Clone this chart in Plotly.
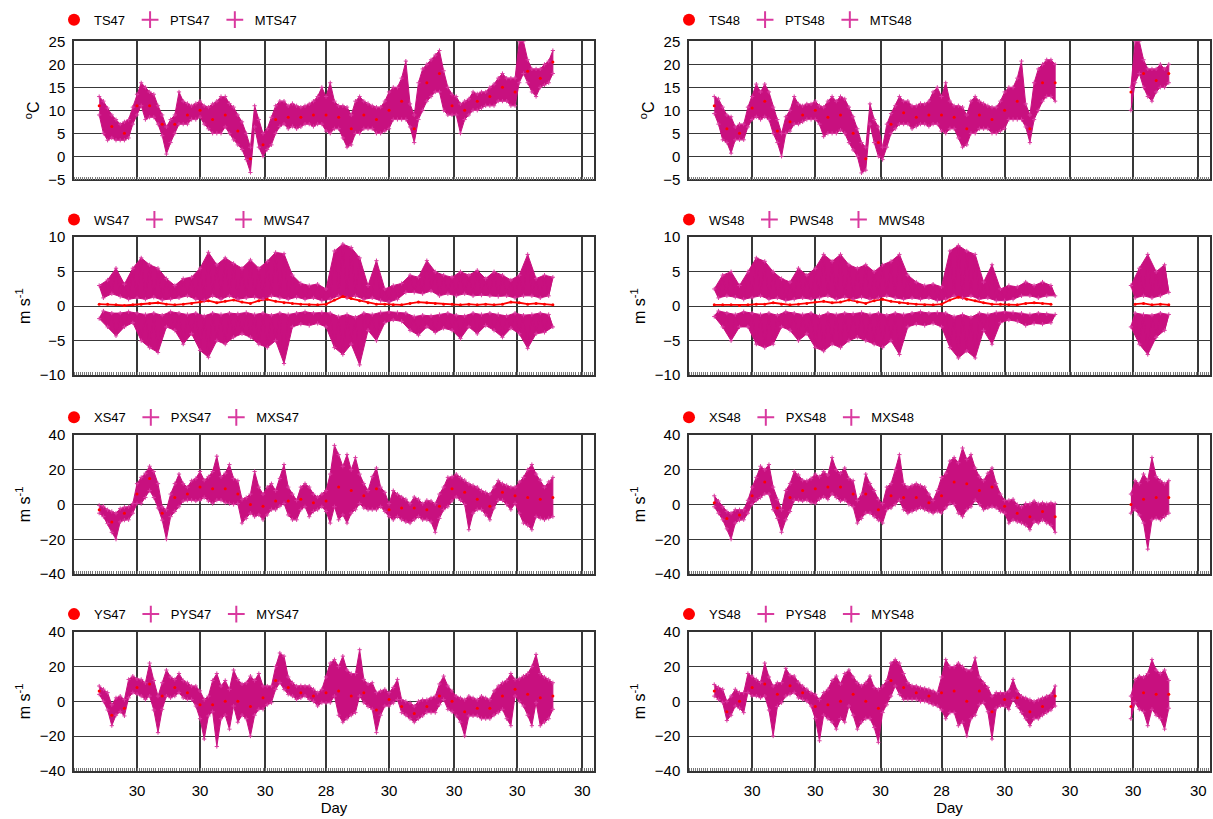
import pandas as pd
import plotly.graph_objects as go

# ---------------------------------------------------------------- data
N = None
START = "2012-11-12"          # first sample of every record
TICK_DATES = ["2012-11-30", "2012-12-30", "2013-01-30", "2013-02-28",
              "2013-03-30", "2013-04-30", "2013-05-30", "2013-06-30"]
TICK_LABELS = ["30", "30", "30", "28", "30", "30", "30", "30"]

# ---- temperature, station 47 (P/M every 2 days, T every 6 days)
PTS47 = [13, 12, 10.5, 9, 8, 7, 7.5, 8, 10.7, 13.5,
         16, 15, 14, 13.5, 11, 9, 6.4, 8, 9, 14,
         12, 11.5, 11, 11.5, 12, 11, 10.7, 11.4, 12, 13,
         13, 11.5, 10.7, 9, 7.5, 5, 2, 11, 8, 5,
         6, 8.5, 11, 12, 12, 11, 11.5, 11, 10.7, 11,
         11.4, 12, 13, 15, 13, 16, 12, 11, 11, 10.7,
         9, 12, 13, 12, 11.5, 11, 10.7, 10.7, 12, 14,
         15, 15, 17, 20.7, 11.4, 9, 16, 19, 20, 21,
         22, 23, 18.6, 15, 13.5, 13, 11.4, 12, 12.5, 14,
         13.6, 14, 14, 15, 15.7, 17, 18, 17, 17, 17,
         25, 25, 21, 19, 19, 19, 20, 20.7, 23]
MTS47 = [9, 5, 3.5, 4, 3.5, 3.5, 3.5, 4, 7, 9,
         11, 8, 8.5, 8.5, 7, 4.5, 0.5, 3, 5, 7,
         7, 7, 8, 8, 8.5, 7, 6, 5, 5, 5,
         6.4, 5, 3.6, 2.5, 1.5, -0.7, -3.5, 6.4, 2, 0,
         1.5, 2.5, 5, 6.5, 7, 6, 6.5, 6, 6.4, 7,
         7, 6.5, 7, 7, 5.5, 5, 6, 6, 4, 2,
         2.5, 5, 5, 6, 6, 6, 5, 5, 5.5, 6,
         8, 8, 8, 8, 6.4, 3, 8, 10, 12, 13,
         14, 14, 10, 9, 9, 9, 5, 8, 9, 10,
         10, 10.5, 11, 11, 11, 12, 12, 12, 11, 11,
         16, 18, 16, 14, 13, 15, 15.5, 16, 18]
TS47 = [11, 6.5, 5, 11, 11, 7, 7, 9, 10, 8, 9, 5.5, -0.5, 2.5, 8, 8.5, 8.5, 9, 9,
        8.5, 6, 9, 8, 10, 12, 6, 16, 18, 11, 10, 12, 13, 15, 14, 18.5, 17, 20.5]

# ---- temperature, station 48
PTS48 = [13, 12.5, 10.7, 9, 8.6, 6.4, 7, 7, 10.7, 13,
         15.7, 14, 15.7, 14, 10.7, 8, 5, 8.6, 10, 13,
         11.4, 11, 11.4, 11.4, 12, 11, 10.7, 12, 13, 12,
         13, 12.5, 10.7, 8.6, 6, 3, 2, 11.4, 8, 6.4,
         2, 7, 9.3, 11, 13, 12, 12, 11, 11, 11.5,
         11.4, 12, 14, 15, 13, 16, 12, 11, 11, 10.7,
         9, 12, 13, 12, 11.5, 11, 10.7, 10.7, 12, 14,
         15, 15, 17, 20.7, 11.4, 9, 16, 19, 20, 21,
         21, 20,
         N, N, N, N, N, N, N, N, N, N, N, N, N, N, N, N, N,
         15, 25, 25, 21, 19, 19, 19, 20, 19, 20]
MTS48 = [9.3, 7, 3.6, 3, 0.7, 3.6, 3.6, 3.6, 6.4, 8,
         8.6, 8, 8.6, 8, 5, 3, 0, 5, 5.5, 7,
         7, 7.5, 8, 8, 8, 7, 4.3, 5, 5, 5,
         5.7, 5, 3, 1.4, 0, -3.6, -3, 7, 3, 0,
         -0.7, 2, 5, 6, 7, 7, 7, 6, 6.5, 7,
         7, 6.5, 7, 7, 5.5, 5, 6, 6, 4, 2,
         2.5, 5, 5, 6, 6, 6, 5, 5, 5.5, 6,
         8, 8, 8, 8, 6.4, 3, 8, 10, 12, 13,
         13, 12,
         N, N, N, N, N, N, N, N, N, N, N, N, N, N, N, N, N,
         10, 16, 18, 15, 13, 12, 14, 15, 15, 16]
TS48 = [11, 6, 5, 10.5, 12, 5.5, 7.5, 9, 10, 8.5, 9, 5, -0.5, 3, 7, 9.5, 8.5, 9, 9,
        8.5, 6, 9, 8, 10, 12, 6, 16, 16, N, N, N, N, N, 14, 18, 16.5, 18]

# ---- vertical wind, station 47 (P/M every 2 days, W every 4 days)
PWS47 = [3.0, 1.2, 3.8, 1.8, 5.5, 1.4, 3.2, 1.0, 5.5, 1.2,
         7.0, 1.0, 6.0, 1.3, 5.5, 0.9, 4.0, 1.0, 3.0, 1.2,
         4.0, 1.5, 4.2, 1.0, 5.5, 0.8, 7.8, 1.5, 6.0, 1.0,
         7.0, 1.5, 6.2, 1.0, 5.5, 1.2, 6.7, 1.3, 5.5, 1.0,
         6.5, 1.5, 7.8, 1.2, 7.6, 1.0, 4.5, 1.3, 3.3, 1.0,
         3.0, 1.2, 3.2, 0.8, 2.5, 1.0, 8.0, 1.5, 9.0, 1.2,
         8.5, 1.5, 7.0, 1.0, 3.0, 1.2, 6.6, 0.8, 2.5, 0.6,
         3.0, 1.0, 3.3, 2.0, 4.5, 2.0, 4.2, 1.8, 6.6, 2.2,
         5.0, 1.5, 4.5, 1.8, 4.2, 1.5, 5.0, 1.8, 4.5, 1.5,
         5.2, 1.6, 4.0, 1.5, 5.0, 1.4, 4.5, 1.5, 3.8, 1.2,
         4.5, 1.5, 7.5, 1.5, 4.0, 1.2, 4.5, 1.5, 4.2]
MWS47 = [-1.8, -0.7, -3.0, -1.0, -4.3, -1.0, -3.0, -0.8, -2.4, -1.0,
         -5.0, -1.2, -6.0, -1.0, -6.7, -1.3, -3.0, -0.8, -3.5, -1.0,
         -5.5, -1.2, -4.0, -1.0, -6.4, -1.4, -7.4, -1.0, -5.0, -1.2,
         -5.5, -1.0, -4.5, -1.1, -4.0, -0.9, -4.5, -1.2, -5.5, -1.0,
         -6.0, -1.3, -5.0, -1.0, -8.3, -1.2, -3.0, -1.0, -2.6, -0.8,
         -2.8, -1.0, -2.5, -0.9, -3.0, -1.0, -6.0, -1.5, -7.0, -1.2,
         -5.5, -1.6, -8.5, -1.0, -3.5, -1.2, -5.0, -0.9, -2.4, -0.8,
         -2.0, -0.9, -2.2, -1.0, -3.5, -1.5, -4.2, -1.3, -3.0, -1.4,
         -3.8, -1.2, -3.2, -1.0, -3.5, -1.3, -4.7, -1.4, -3.0, -1.0,
         -4.0, -1.2, -2.8, -1.0, -3.5, -1.2, -4.5, -1.4, -3.2, -1.0,
         -4.0, -1.3, -6.1, -1.2, -4.0, -1.0, -3.8, -1.2, -3.0]
WS47 = [0.3, 0.3, 0.2, 0.1, 0.2, 0.3, 0.4, 0.5, 0.3, 0.2,
        0.3, 0.4, 0.6, 0.8, 0.5, 0.7, 0.9, 0.6, 0.4, 0.8,
        1.0, 0.7, 0.5, 0.4, 0.3, 0.2, 0.2, 0.3, 0.9, 1.4,
        1.1, 0.8, 0.5, 0.3, 0.3, 0.2, 0.2, 0.4, 0.6, 0.5,
        0.4, 0.3, 0.3, 0.2, 0.3, 0.2, 0.3, 0.2, 0.3, 0.6,
        0.5, 0.3, 0.4, 0.3, 0.2]

# ---- vertical wind, station 48
PWS48 = [2.5, 1.2, 4.5, 1.5, 5.0, 1.3, 3.0, 1.0, 5.0, 1.2,
         7.0, 1.5, 6.5, 1.0, 5.0, 1.2, 4.0, 0.8, 3.5, 1.0,
         5.5, 1.2, 4.5, 1.0, 5.5, 1.2, 7.5, 1.5, 6.5, 1.0,
         7.5, 1.3, 6.0, 1.0, 5.5, 1.3, 6.0, 1.0, 5.0, 1.2,
         6.0, 1.5, 6.5, 1.2, 7.5, 1.0, 4.5, 1.2, 3.5, 1.0,
         3.0, 1.2, 3.2, 0.8, 2.8, 1.0, 8.0, 1.5, 8.8, 1.2,
         8.0, 1.5, 7.5, 1.0, 3.5, 1.2, 6.0, 0.8, 2.5, 0.8,
         3.0, 1.0, 2.8, 1.5, 3.5, 1.5, 3.0, 1.2, 3.5, 1.5,
         3.0, 1.5,
         N, N, N, N, N, N, N, N, N, N, N, N, N, N, N, N, N,
         3.0, 1.2, 5.5, 1.5, 7.5, 1.2, 5.0, 1.5, 6.0, 2.0]
MWS48 = [-1.5, -0.7, -3.0, -1.0, -5.0, -1.2, -3.0, -0.8, -3.0, -1.0,
         -5.5, -1.2, -6.0, -1.0, -5.5, -1.3, -3.0, -0.8, -3.5, -1.0,
         -5.0, -1.2, -4.0, -1.0, -6.0, -1.4, -6.5, -1.0, -5.5, -1.2,
         -6.0, -1.0, -5.0, -1.1, -4.5, -0.9, -5.0, -1.2, -5.5, -1.0,
         -6.0, -1.3, -5.0, -1.0, -7.0, -1.2, -3.0, -1.0, -2.6, -0.8,
         -2.8, -1.0, -2.5, -0.9, -3.0, -1.0, -6.0, -1.5, -7.5, -1.2,
         -6.5, -1.6, -7.5, -1.0, -3.5, -1.2, -5.5, -0.9, -2.4, -0.8,
         -2.0, -0.9, -2.2, -1.0, -2.8, -1.2, -2.5, -1.0, -2.6, -1.1,
         -2.4, -1.2,
         N, N, N, N, N, N, N, N, N, N, N, N, N, N, N, N, N,
         -3.0, -1.0, -5.5, -1.2, -7.0, -1.3, -4.5, -1.0, -3.5, -1.2]
WS48 = [0.2, 0.2, 0.2, 0.1, 0.2, 0.3, 0.3, 0.5, 0.3, 0.2,
        0.3, 0.4, 0.6, 0.7, 0.5, 0.6, 0.9, 0.6, 0.4, 0.8,
        1.0, 0.7, 0.5, 0.4, 0.3, 0.2, 0.2, 0.3, 0.9, 1.3,
        1.0, 0.8, 0.5, 0.3, 0.3, 0.2, 0.2, 0.4, 0.5, 0.4,
        0.3, N, N, N, N, N, N, N, N, N,
        0.3, 0.4, 0.2, 0.3, 0.2]

# ---- zonal wind (X), station 47
PXS47 = [-0.5, -1, -3, -4, -5, -2.3, -1.5, -1.3, 0.5, 12,
         15.6, 18, 22, 19, 12, -1.3, -3, 6, 12, 17.5,
         12, 10, 13.7, 15, 19, 14, 16, 19, 27.8, 16,
         18, 23, 15, 13.7, 3, 4, 6, 19, 10, 6,
         10, 12, 8, 15, 23, 10, 6, 2.4, 10, 12,
         10, 6, 4.3, 6, 8, 17.5, 34, 28.7, 22, 28.7,
         20, 27, 17.5, 12, 8, 16, 21, 10, 7, 0.5,
         8, 6, 4.3, 3, 0.5, 4.3, 3, 0.5, 2.4, 2,
         0.5, 6, 10, 15.6, 16, 17.5, 15.6, 14, 12, 11,
         10, 8, 7, 6, 10, 13.7, 12, 11, 10, 10,
         13, 15.6, 20, 23, 17.5, 14, 10, 13, 15.6]
MXS47 = [-5, -7, -11, -16, -20, -10, -9, -8.8, -5, 0.5,
         0.5, 4, 8, 4, -2, -9, -20, -7, -4, -1.3,
         2, 2.4, 2.4, 2, 2.4, 4, 2, 0.5, 2.4, 2.4,
         1, 0.5, 0, 0.5, -10.7, -8, -5, -7, -6, -8.8,
         -6, -3, -3, -1, 0.5, -6, -8.8, -8.8, -3, -1.3,
         -7, -4, -3, -1.3, -4, -10.7, -1.3, -8.8, -6, -10.7,
         -5, -3, 0.5, -2, -3, -3, -3, -1.3, -4, -7,
         -8.8, -7, -8.8, -10, -10.7, -8.8, -7, -8.8, -8.8, -10,
         -16, -8, -3, -1.3, 2, 4.3, 2.4, 0, -14.5, -5,
         -3, -3, -6, -8.8, -2, 2.4, 2.4, 0, -3, 0.5,
         -5, -10.7, -12, -14.5, -7, -8, -8.8, -8, -7]
XS47 = [-3, -10, -5, 6, 15, -5, 4, 6, 10, 9, 9, 6, 0, -1, 2, 2, 3, 1, 2,
        10, 8, 5, 9, -3, -2, -2, -3, -1, 9, 7, 3, -1, 7, 5, 4, 3, 4]

# ---- zonal wind (X), station 48
PXS48 = [5, 2, -1.3, -4, -5, -3, -3, -3, 2.4, 10,
         15.6, 22, 20, 23, 10, 3, -3, 8, 12, 19,
         17, 14, 13.7, 15, 17.5, 16, 19, 17, 27, 20,
         18, 21, 15, 13.7, 2.4, 6, 17.5, 12, 8, 3,
         0.5, 10, 12, 20, 28.7, 12, 10, 11, 12, 11,
         10, 6, 2.4, 8, 15.6, 18, 25, 27, 24, 32.5,
         26, 28.7, 21, 16, 13.7, 18, 21, 12, 6, 2.4,
         2.4, 3, 0, -1.3, 0.5, 0.5, 2, 0.5, 1, 0.5,
         1, 0.5,
         N, N, N, N, N, N, N, N, N, N, N, N, N, N, N, N, N,
         6, 13.7, 12, 17.5, 14, 27, 16, 13.7, 12, 13.7]
MXS48 = [-1.3, -5, -8.8, -14, -20, -10.7, -9, -8.8, -5, 0,
         2.4, 4, 6, 6, -3, -8, -16, -8.8, -4, 2.4,
         2.4, 2, 2.4, 1, 0.5, 3, 4.3, 3, 6, 4,
         2, 2.4, 0, -1.3, -10.7, -8, -5, -5, -7, -9,
         -10.7, -3, -2, 0, 2.4, -3, -5, -4, -3, -2,
         -3, -4, -5, -4, -5, -2, 0.5, 0, -5, -7,
         -3, -1.3, 2.4, 0, -3, -2, -1.3, -2, -4, -5,
         -10.7, -9, -10, -10.7, -12, -14.5, -10, -10.7, -9, -10.7,
         -12, -16,
         N, N, N, N, N, N, N, N, N, N, N, N, N, N, N, N, N,
         -5, -3, -6, -10.7, -25.7, -8.8, -8, -8.8, -7, -5]
XS48 = [1, -8, -6, 5, 13, -2, 4, 8, 9, 10, 10, 6, 6, -3, 5, 4, 4, 1, 5,
        13, 12, 8, 10, -1, -5, -7, -4, -7, N, N, N, N, N, 0, 3, 4, 4]

# ---- meridional wind (Y), station 47
PYS47 = [8.8, 7, 5, -2, 2, 3, 1, 12.6, 14.5, 13,
         12.6, 10.7, 22, 12, 3, 10.7, 18, 14, 12.6, 16,
         12, 10.7, 8.8, 8.8, 6, 1, 3, 12, 16, 8.8,
         12, 6.9, 18, 12.6, 10, 10.7, 14.5, 12, 16, 8.8,
         8.8, 8.8, 20, 27.8, 26, 14, 10.7, 8.8, 9, 8.8,
         8.8, 7, 5, 6.9, 14, 22, 24, 20, 26, 18,
         16, 16, 29.7, 12.6, 10, 10.7, 5, 6, 6.9, 5,
         8, 12.6, 1, 0, -0.8, -2.7, 0, 1, 1, 2,
         3, 10, 14.5, 8.8, 6, 3, 2, 1, 3, 2,
         1, 3, 2, 1, 6, 8.8, 10.7, 12, 16, 12.6,
         13, 14.5, 16, 20, 27, 16, 14, 12.6, 10.7]
MYS47 = [4, 0, -5, -14, -8, -6, -8.4, 2, 5, 4,
         3, 1, 3, -5, -18, -4.6, 3, 2, 3, 5,
         2, 1, 1, -2.7, -10, -21.7, -8.4, -6, -26, -10,
         -8, -16, -2.7, -12, -8, -10, -20, -8, -4.6, -4.6,
         -2, -0.8, 6.9, 10.7, 6.9, 4, 3, 1, 2, 3,
         1, 0, -2.7, -0.8, -1, -0.8, 3, -8, -12, -10,
         -8, -6.5, 3, -0.8, -3, -4.6, -18, -8, -2.7, -2.7,
         -1, 1, -6.5, -8, -10, -12, -10, -8.4, -6.5, -6.5,
         -6.5, -2, 1, -4.6, -6, -8.4, -12, -20, -8.4, -8.4,
         -8.4, -10, -10, -10, -8, -6.5, -4.6, -10, -14, 3,
         0, -2.7, -8, -14, -0.8, -14, -12, -10, -4.6]
YS47 = [6, -8, -4, 8, 10, 3, 8, 5, -2, -2, 0, 0, -3, 2, 12, 8, 5, 3, 5,
        6, 3, 5, -5, 1, -3, -7, -3, 3, 0, -6, -4, -4, 3, 7, 4, 2, 3]

# ---- meridional wind (Y), station 48
PYS48 = [9.7, 8, 6.9, 0, 3, 6.9, 5, 5, 16, 14.5,
         12.6, 11, 22, 14, 8.8, 10.7, 10.7, 19, 15, 14.5,
         11, 8.8, 7, 5, 4, 1, 5, 6.9, 12, 14.5,
         10, 16, 18, 14, 10.7, 9, 10.7, 14.5, 8, 6.9,
         8.8, 12, 22, 24, 22, 16, 10.7, 9, 8.8, 8,
         7.5, 6.9, 6, 5, 14, 24, 20, 20, 22, 20,
         18, 18, 25, 14, 10.7, 8, 3, 5, 5, 5,
         6, 12.6, 6, 3, 2, 1, 0, 1, 2, 3,
         4, 8.8,
         N, N, N, N, N, N, N, N, N, N, N, N, N, N, N, N, N,
         3, 12.6, 14.5, 14, 16, 24, 18, 16, 18, 12]
MYS48 = [3, 1, -0.8, -11, -8, -2.7, -4, -6.5, 5, 3,
         3, 2, 3, -5, -20, -3, -0.8, 3, 4, 5,
         2, 1, 0, -2.7, -10, -22.7, -8, -10, -12, -16,
         -10, -12, -2.7, -8, -16, -12, -10, -10, -15, -23.6,
         -6.5, -2, 3, 8.8, 4, 1, 1, 1, 1, 0,
         0, -0.8, -2, -2.7, -5, -10, -6.5, -6.5, -14, -12,
         -20, -10, -8, -2, -0.8, -6, -21.7, -4, -2.7, -3,
         -4.6, 1, -3, -6.5, -10, -14, -10, -10, -8, -6.5,
         -5, -2.7,
         N, N, N, N, N, N, N, N, N, N, N, N, N, N, N, N, N,
         -10, -0.8, -4.6, -6, -14, -4.6, -8, -10, -16, -4]
YS48 = [6, -6, 0, 8, 10, 4, 9, 5, -3, -2, 0, 4, 0, -4, 12, 8, 5, 3, 5,
        6, 0, 6, -6, 1, 2, -6, -3, 3, N, N, N, N, N, -3, 5, 4, 4]

# ---------------------------------------------------------------- style
FONT = "Liberation Sans, Arial, Helvetica, sans-serif"
BAND = "#c8107f"
PLUS = "#d9399f"
RED = "#ff0000"
GRID = "#383838"

X_DOMAINS = {1: [74 / 1213, 594 / 1213], 2: [689 / 1213, 1210 / 1213]}
ROW_PX = {1: (33, 174), 2: (233, 374), 3: (435, 577), 4: (636, 778)}
LEGEND_PX = {1: 11, 2: 215, 3: 417, 4: 618}


def ydom(row):
    top, bot = ROW_PX[row]
    return [1 - bot / 819, 1 - top / 819]


def dates(step, n):
    return pd.date_range(START, periods=n, freq=f"{step}D")


def runs(x, *cols):
    """Split parallel sequences into contiguous runs without gaps."""
    segs, cur = [], []
    for row in zip(x, *cols):
        if any(v is None for v in row[1:]):
            if cur:
                segs.append(cur)
                cur = []
        else:
            cur.append(row)
    if cur:
        segs.append(cur)
    return segs


def add_polygon(xs_fwd, ys_fwd, xs_back, ys_back, xa, ya):
    fig.add_trace(go.Scatter(
        x=list(xs_fwd) + list(xs_back)[::-1], y=list(ys_fwd) + list(ys_back)[::-1],
        mode="lines", fill="toself", fillcolor=BAND,
        line=dict(color=BAND, width=1), hoverinfo="skip",
        showlegend=False, xaxis=xa, yaxis=ya))


PANELS = [
    # (row, col, kind, names, base, plus, minus, ytitle, yrange, dtick)
    (1, 1, "band", ("TS47", "PTS47", "MTS47"), TS47, PTS47, MTS47, "<sup>o</sup>C", [-5, 25], 5),
    (1, 2, "band", ("TS48", "PTS48", "MTS48"), TS48, PTS48, MTS48, "<sup>o</sup>C", [-5, 25], 5),
    (2, 1, "wind", ("WS47", "PWS47", "MWS47"), WS47, PWS47, MWS47, "m s<sup>-1</sup>", [-10, 10], 5),
    (2, 2, "wind", ("WS48", "PWS48", "MWS48"), WS48, PWS48, MWS48, "m s<sup>-1</sup>", [-10, 10], 5),
    (3, 1, "band", ("XS47", "PXS47", "MXS47"), XS47, PXS47, MXS47, "m s<sup>-1</sup>", [-40, 40], 20),
    (3, 2, "band", ("XS48", "PXS48", "MXS48"), XS48, PXS48, MXS48, "m s<sup>-1</sup>", [-40, 40], 20),
    (4, 1, "band", ("YS47", "PYS47", "MYS47"), YS47, PYS47, MYS47, "m s<sup>-1</sup>", [-40, 40], 20),
    (4, 2, "band", ("YS48", "PYS48", "MYS48"), YS48, PYS48, MYS48, "m s<sup>-1</sup>", [-40, 40], 20),
]

fig = go.Figure()
layout = dict(
    width=1213, height=819, margin=dict(l=0, r=0, t=0, b=0),
    paper_bgcolor="white", plot_bgcolor="white",
    font=dict(family=FONT, size=15, color="black"),
)

for i, (row, col, kind, names, base, plus, minus, ytitle, yrange, dt) in enumerate(PANELS, start=1):
    xa, ya = f"x{i}", f"y{i}"
    lg = "legend" if i == 1 else f"legend{i}"
    x2 = dates(2, len(plus))

    if kind == "band":
        # envelope between the plus and minus series
        for seg in runs(x2, plus, minus):
            sx = [s[0] for s in seg]
            add_polygon(sx, [s[1] for s in seg], sx, [s[2] for s in seg], xa, ya)
        xb = dates(6, len(base))
    else:
        # plus / minus series scatter widely: shade each one's own spread
        for arr in (plus, minus):
            for seg in runs(x2, arr):
                sx = [s[0] for s in seg]
                sy = [s[1] for s in seg]
                add_polygon(sx[0::2], sy[0::2], sx[1::2], sy[1::2], xa, ya)
                fig.add_trace(go.Scatter(
                    x=sx, y=sy, mode="lines", line=dict(color=BAND, width=1.2),
                    hoverinfo="skip", showlegend=False, xaxis=xa, yaxis=ya))
        xb = dates(4, len(base))
        fig.add_trace(go.Scatter(
            x=xb, y=base, mode="lines", line=dict(color=RED, width=1.8),
            hoverinfo="skip", showlegend=False, xaxis=xa, yaxis=ya))

    for nm, arr, rank in ((names[1], plus, 2), (names[2], minus, 3)):
        fig.add_trace(go.Scatter(
            x=x2, y=arr, mode="markers", name=nm, legend=lg, legendrank=rank,
            marker=dict(symbol="cross-thin", size=3, line=dict(color=PLUS, width=1), color=PLUS),
            xaxis=xa, yaxis=ya))

    fig.add_trace(go.Scatter(
        x=xb, y=base, mode="markers", name=names[0], legend=lg, legendrank=1,
        marker=dict(symbol="circle", size=3, color=RED),
        xaxis=xa, yaxis=ya))

    bottom = row == 4
    xax = dict(
        domain=X_DOMAINS[col], anchor=ya, type="date",
        range=["2012-10-31", "2013-07-05 14:00"],
        tickmode="array", tickvals=TICK_DATES, ticktext=TICK_LABELS,
        showticklabels=bottom, ticks="", tickfont=dict(size=15), ticklabelstandoff=5,
        showgrid=True, gridcolor=GRID, gridwidth=1.5,
        showline=True, mirror=True, linecolor="#333", linewidth=1.5,
        zeroline=False,
        minor=dict(ticks="inside", ticklen=3, tickcolor="#777", tickwidth=1,
                   dtick=86400000, tick0="2012-10-31", showgrid=False),
    )
    if bottom:
        xax["title"] = dict(text="Day", standoff=0, font=dict(size=15))
    layout[f"xaxis{i}"] = xax
    layout[f"yaxis{i}"] = dict(
        domain=ydom(row), anchor=xa, range=yrange, dtick=dt, tick0=0,
        ticks="", tickfont=dict(size=15), ticklabelstandoff=4,
        showgrid=True, gridcolor=GRID, gridwidth=1.3,
        showline=True, mirror=True, linecolor="#333", linewidth=1.5,
        zeroline=False,
        title=dict(text=ytitle, standoff=5, font=dict(size=16)),
    )
    layout[lg] = dict(
        orientation="h", x=(54 if col == 1 else 669) / 1213, y=1 - LEGEND_PX[row] / 819,
        xanchor="left", yanchor="middle", itemsizing="constant",
        font=dict(size=13), bgcolor="rgba(0,0,0,0)", tracegroupgap=0,
    )

fig.update_layout(**layout)
fig.write_html("out.html")
